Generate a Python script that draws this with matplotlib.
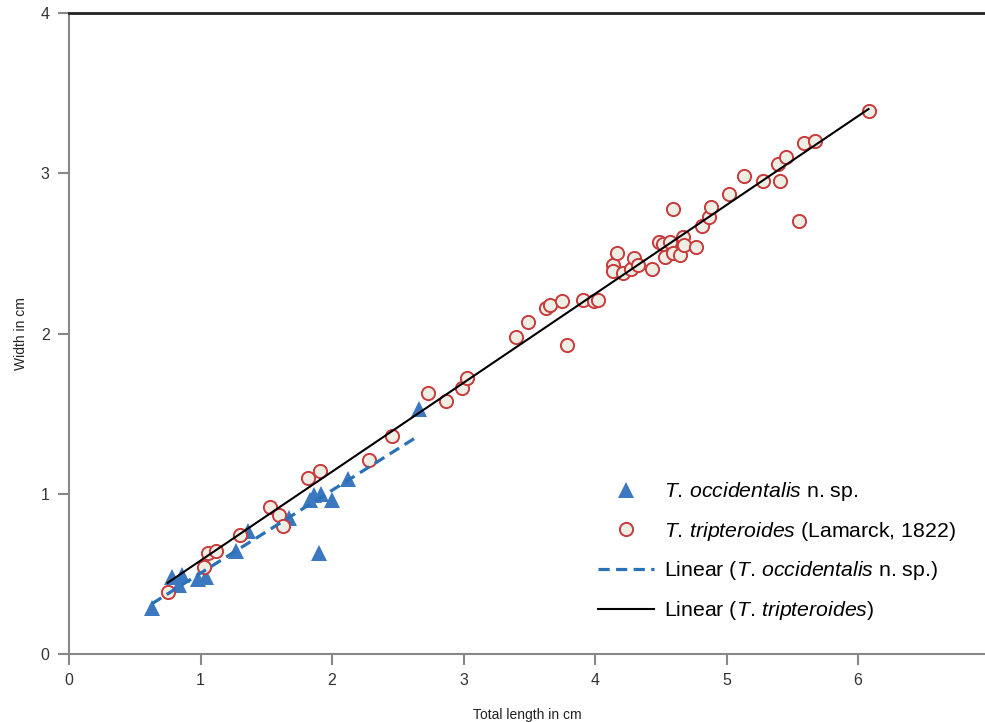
import numpy as np
import matplotlib
matplotlib.use("Agg")
import matplotlib.pyplot as plt

plt.rcParams["font.family"] = ["Liberation Sans", "DejaVu Sans"]
plt.rcParams["mathtext.fontset"] = "custom"
plt.rcParams["mathtext.rm"] = "Liberation Sans"
plt.rcParams["mathtext.it"] = "Liberation Sans:italic"

# T. occidentalis n. sp.
occ_len = [0.63, 0.78, 0.84, 0.86, 0.98, 1.04, 1.27, 1.36, 1.67, 1.83, 1.86,
           1.92, 2.00, 2.12, 1.90, 2.66]
occ_wid = [0.29, 0.48, 0.43, 0.49, 0.47, 0.48, 0.64, 0.77, 0.85, 0.96, 0.99,
           1.00, 0.96, 1.09, 0.63, 1.53]

# T. tripteroides (Lamarck, 1822)
tri_len = [0.75, 1.03, 1.06, 1.12, 1.30, 1.53, 1.60, 1.63, 1.82, 1.91, 2.28,
           2.46, 2.73, 2.87, 2.99, 3.03, 3.40, 3.49, 3.63, 3.66, 3.75, 3.79,
           3.91, 3.99, 4.02, 4.14, 4.17, 4.14, 4.21, 4.27, 4.30, 4.33, 4.43,
           4.49, 4.52, 4.53, 4.57, 4.59, 4.65, 4.67, 4.68, 4.77, 4.59, 4.81,
           4.87, 4.88, 5.02, 5.13, 5.28, 5.39, 5.45, 5.41, 5.55, 5.59, 5.67,
           6.08]
tri_wid = [0.39, 0.54, 0.63, 0.64, 0.74, 0.92, 0.87, 0.80, 1.10, 1.14, 1.21,
           1.36, 1.63, 1.58, 1.66, 1.72, 1.98, 2.07, 2.16, 2.18, 2.20, 1.93,
           2.21, 2.20, 2.21, 2.43, 2.50, 2.39, 2.38, 2.40, 2.47, 2.43, 2.40,
           2.57, 2.56, 2.48, 2.57, 2.50, 2.49, 2.60, 2.55, 2.54, 2.78, 2.67,
           2.73, 2.79, 2.87, 2.98, 2.95, 3.06, 3.10, 2.95, 2.70, 3.19, 3.20,
           3.39]

blue = "#3b78c0"
red = "#c83a3c"
cream = "#eeeee4"
grey = "#888888"

fig = plt.figure(figsize=(9.85, 7.22), dpi=100)
ax = fig.add_axes([69 / 985, 68 / 722, 916 / 985, 641 / 722])

ax.plot(occ_len, occ_wid, "^", color=blue, markersize=11, markeredgewidth=0,
        label=r"$\it{T.\,occidentalis}$ n. sp.", zorder=3)
ax.plot(tri_len, tri_wid, "o", markerfacecolor=cream, markeredgecolor=red,
        markeredgewidth=1.4, markersize=9.5,
        label=r"$\it{T.\,tripteroides}$ (Lamarck, 1822)", zorder=4)

# linear trend lines
a, b = np.polyfit(occ_len, occ_wid, 1)
xs = np.array([min(occ_len), max(occ_len)])
ax.plot(xs, a * xs + b, "--", color="#2a72b8", linewidth=2.3, dashes=(3.5, 2),
        label=r"Linear ($\it{T.\,occidentalis}$ n. sp.)", zorder=5)
a, b = np.polyfit(tri_len, tri_wid, 1)
xs = np.array([min(tri_len), max(tri_len)])
ax.plot(xs, a * xs + b, "-", color="black", linewidth=1.5,
        label=r"Linear ($\it{T.\,tripteroides}$)", zorder=5)

ax.set_xlim(0, 916 / 131.5)
ax.set_ylim(0, 4)
ax.set_xticks(range(0, 7))
ax.set_yticks(range(0, 5))

ax.spines["right"].set_visible(False)
ax.spines["top"].set_color("#222222")
ax.spines["top"].set_linewidth(2)
for s in ["left", "bottom"]:
    ax.spines[s].set_color(grey)
    ax.spines[s].set_linewidth(1.5)
ax.tick_params(direction="out", length=8, width=1.5, color=grey,
               labelsize=11.5, labelcolor="#333333", pad=6)

ax.set_xlabel("Total length in cm", fontsize=10, color="#222222", labelpad=14)
ax.set_ylabel("Width in cm", fontsize=10, color="#222222", labelpad=9)

ax.legend(loc="lower left", bbox_to_anchor=(598 / 985, 100 / 722),
          bbox_transform=fig.transFigure, frameon=False, fontsize=15.3,
          handlelength=2.65, handletextpad=0.45, labelspacing=0.78,
          borderpad=0, borderaxespad=0)

fig.savefig("out.png", dpi=100)
